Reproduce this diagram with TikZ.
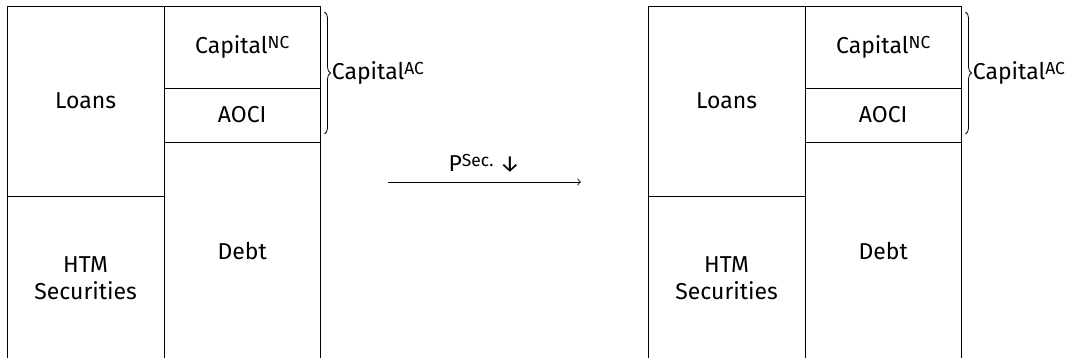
\documentclass[tikz,border=0pt]{standalone}
\usepackage{fontspec}
\setmainfont{Fira Sans}
\usetikzlibrary{positioning,decorations.pathreplacing}
\newcommand{\sups}[1]{\raisebox{2.6pt}{\fontsize{8.7pt}{10pt}\selectfont #1}}
\tikzset{
    sheet/.style={draw, rectangle, minimum width=78.3pt, inner sep=0pt, outer sep=0pt,
        align=center, font=\fontsize{11.5pt}{13.5pt}\selectfont},
    capbrace/.style={decorate, decoration={brace, amplitude=3pt}},
    sheetlabel/.style={right=3.5pt, inner sep=0pt, font=\fontsize{11.5pt}{13.5pt}\selectfont},
}

\begin{document}
\begin{tikzpicture}[x=1pt,y=1pt]
    \useasboundingbox (0,0) rectangle (534.5,-179);
    % before
    \node[sheet, minimum height=95pt, anchor=north west] (loans1) at (3.65,-3) {Loans};
    \node[sheet, minimum height=82pt, below=0pt of loans1] (htm1) {HTM\\Securities};
    \node[sheet, minimum height=41pt, anchor=north west] (capnc1) at (loans1.north east) {Capital\sups{NC}};
    \node[sheet, minimum height=27pt, below=0pt of capnc1] (aoci1) {AOCI};
    \node[sheet, minimum height=109pt, below=0pt of aoci1] (debt1) {Debt};
    \draw[capbrace] ([xshift=2pt,yshift=-3pt]capnc1.north east) -- ([xshift=2pt,yshift=4pt]aoci1.south east)
        node[midway, sheetlabel] (capac1) {Capital\sups{AC}};
    % after
    \node[sheet, minimum height=95pt, anchor=north west] (loans2) at (324.15,-3) {Loans};
    \node[sheet, minimum height=82pt, below=0pt of loans2] (htm2) {HTM\\Securities};
    \node[sheet, minimum height=41pt, anchor=north west] (capnc2) at (loans2.north east) {Capital\sups{NC}};
    \node[sheet, minimum height=27pt, below=0pt of capnc2] (aoci2) {AOCI};
    \node[sheet, minimum height=109pt, below=0pt of aoci2] (debt2) {Debt};
    \draw[capbrace] ([xshift=2pt,yshift=-3pt]capnc2.north east) -- ([xshift=2pt,yshift=4pt]aoci2.south east)
        node[midway, sheetlabel] (capac2) {Capital\sups{AC}};
    % price drop
    \coordinate (from) at (194,-91);
    \coordinate (to) at (290.5,-91);
    \draw[->] (from) -- (to)
        node[midway, above=1.3pt, font=\fontsize{11.5pt}{13.5pt}\selectfont] (shock) {P\sups{Sec.} ↓};
\end{tikzpicture}
\end{document}
